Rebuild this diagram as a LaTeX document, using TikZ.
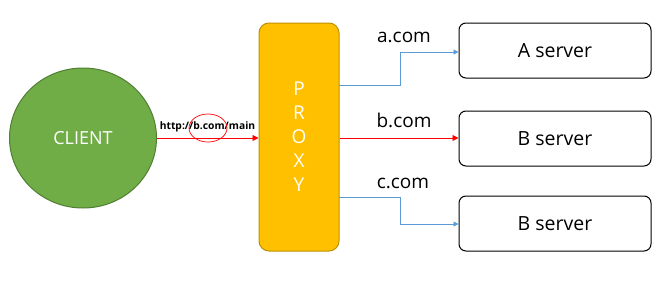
\documentclass[tikz,border=0pt]{standalone}
\usepackage{fontspec}
\setmainfont{Open Sans}
\usetikzlibrary{arrows.meta,shapes.geometric}
\definecolor{cgreen}{HTML}{70AD47}
\definecolor{cgreenb}{HTML}{507E32}
\definecolor{pgold}{HTML}{FFC000}
\definecolor{pgoldb}{HTML}{BF9000}
\definecolor{lblue}{HTML}{5B9BD5}
\tikzset{
  serverbox/.style={draw=black, line width=1pt, rounded corners=7pt, minimum width=192pt, minimum height=55pt, inner sep=0pt, font=\fontsize{19.5}{22}\selectfont},
  domlabel/.style={font=\fontsize{19}{22}\selectfont, inner sep=0pt},
  bluearrow/.style={draw=lblue, line width=0.8pt, -{Triangle[length=5pt,width=5pt]}},
  redarrow/.style={draw=red, line width=0.9pt, -{Triangle[length=6pt,width=6pt]}},
}
\begin{document}
\begin{tikzpicture}[x=1pt,y=-1pt]
\useasboundingbox (0,0) rectangle (667,281);
\node[ellipse, draw=cgreenb, fill=cgreen, line width=1pt, minimum width=147pt, minimum height=140pt, inner sep=0pt, text=white, font=\fontsize{18}{22}\selectfont] (client) at (83,138) {CLIENT};
\node[draw=pgoldb, fill=pgold, line width=1pt, rounded corners=10pt, minimum width=80pt, minimum height=228pt, inner sep=0pt, text=white, align=center, font=\fontsize{19}{24}\selectfont] (proxy) at (299,137) {P\\R\\O\\X\\Y};
\node[serverbox] (sa) at (555,50.5) {A server};
\node[serverbox] (sb) at (555,138.5) {B server};
\node[serverbox] (sc) at (555,223.5) {B server};
\coordinate (pa) at (339,85);
\coordinate (pc) at (339,197);
\draw[redarrow] (client.east |- 0,138) -- (proxy.west |- 0,138);
\node[font=\bfseries\fontsize{10.3}{12}\selectfont, inner sep=0pt] (url) at (207.5,127) {http://b.com/main};
\node[draw=red, line width=0.7pt, ellipse, minimum width=38pt, minimum height=28pt, inner sep=0pt] (circ) at (208,128) {};
\draw[bluearrow] (pa) -- (400,85) -- (400,52) -- (sa.west |- 0,52);
\draw[redarrow] (proxy.east |- 0,138) -- (sb.west |- 0,138);
\draw[bluearrow] (pc) -- (400,197) -- (400,224) -- (sc.west |- 0,224);
\node[domlabel] (la) at (404,37) {a.com};
\node[domlabel] (lb) at (404,120) {b.com};
\node[domlabel] (lc) at (403,183) {c.com};
\end{tikzpicture}
\end{document}
